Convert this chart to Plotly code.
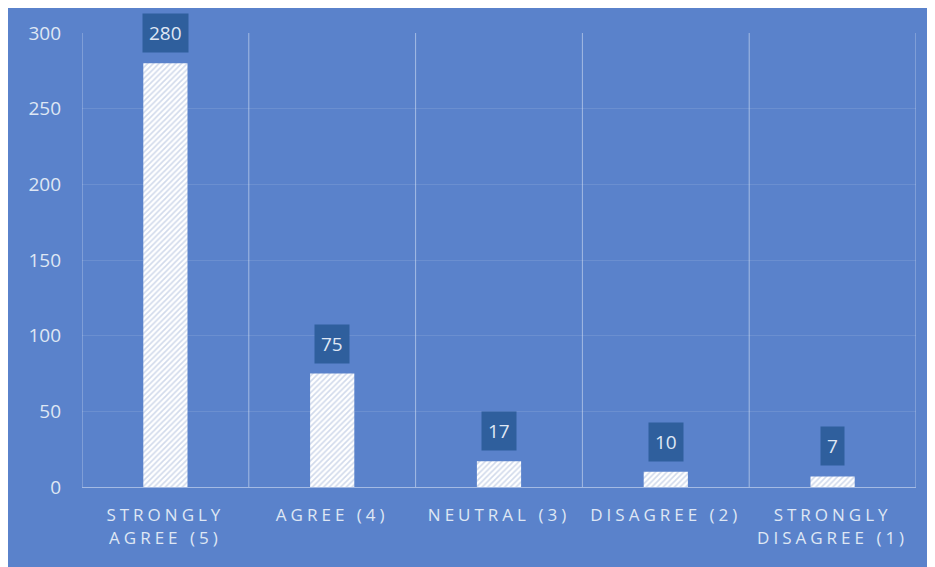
import plotly.graph_objects as go

categories = ["STRONGLY<br>AGREE (5)", "AGREE (4)", "NEUTRAL (3)", "DISAGREE (2)", "STRONGLY<br>DISAGREE (1)"]
values = [280, 75, 17, 10, 7]
y_ticks = [0, 50, 100, 150, 200, 250, 300]

BG = "#5a82cb"
BOX = "#2f5f9d"
TXT = "#dfe7f4"
GRID = "rgba(225,233,247,0.55)"

fig = go.Figure()
fig.add_trace(go.Bar(
    x=categories, y=values,
    marker=dict(color="white", line=dict(width=0),
                pattern=dict(shape="/", fgcolor="#a3b5d8", bgcolor="white", size=4, solidity=0.4)),
    hoverinfo="skip",
))

for c, v in zip(categories, values):
    fig.add_annotation(x=c, y=v, text=str(v), showarrow=False, yanchor="bottom", yshift=10,
                       bgcolor=BOX, borderpad=6, font=dict(family="Open Sans", size=19, color=TXT))

# vertical category boundary grid lines
for i in range(len(categories) + 1):
    fig.add_shape(type="line", xref="x", yref="paper", x0=i - 0.5, x1=i - 0.5, y0=0, y1=1,
                  line=dict(color=GRID, width=1), layer="below")

fig.update_layout(
    width=935, height=567,
    paper_bgcolor=BG, plot_bgcolor=BG,
    margin=dict(l=74, r=27, t=25, b=88),
    bargap=0.735,
    showlegend=False,
    font=dict(family="Open Sans", color=TXT),
)
fig.update_xaxes(tickfont=dict(size=17, color=TXT), showgrid=False, showline=True,
                 linecolor=GRID, linewidth=1, ticks="", range=[-0.5, 4.5], ticklabelstandoff=13)
fig.update_yaxes(range=[0, 300], tickvals=y_ticks, tickfont=dict(size=19, color=TXT),
                 showgrid=True, gridcolor="rgba(225,233,247,0.13)", zeroline=False,
                 ticks="", ticklabelstandoff=20)

fig.write_html("out.html", post_script="var s=document.createElement('style');s.textContent='.xtick text{letter-spacing:4px}';document.head.appendChild(s);")
